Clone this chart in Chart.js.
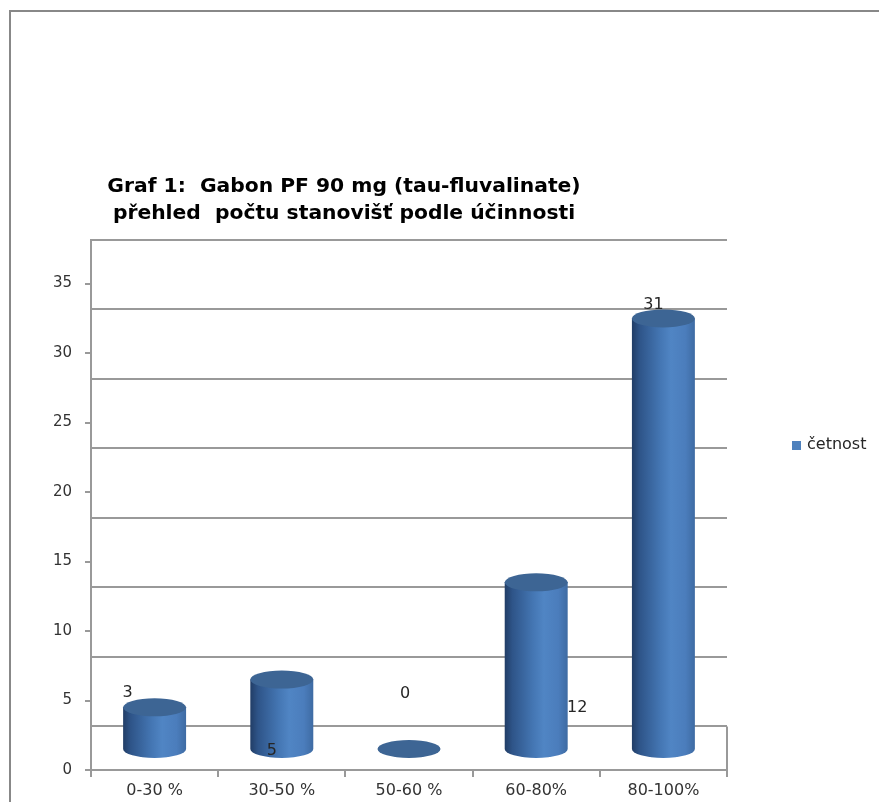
<!DOCTYPE html>
<html>
<head>
<meta charset="utf-8">
<script src="https://cdn.jsdelivr.net/npm/chart.js@4.4.1/dist/chart.umd.min.js"></script>
<style>
  html, body { margin: 0; padding: 0; background: #fff; }
  body { width: 879px; height: 802px; position: relative; overflow: hidden; }
  #frame { position: absolute; left: 9px; top: 10px; width: 900px; height: 820px;
           border-left: 2px solid #888; border-top: 2px solid #888; }
  #chart { position: absolute; left: -39px; top: 0; }
</style>
</head>
<body>
<div id="frame"></div>
<canvas id="chart" width="918" height="802"></canvas>
<script>
const categories = ['0-30 %', '30-50 %', '50-60 %', '60-80%', '80-100%'];
const counts = [3, 5, 0, 12, 31];
const seriesName = 'četnost';
const titleLines = ['Graf 1:  Gabon PF 90 mg (tau-fluvalinate)', 'přehled  počtu stanovišť podle účinnosti'];
const yTicks = [0, 5, 10, 15, 20, 25, 30, 35];

// Excel dropped the value labels in odd spots, shift relative to the cylinder top
const labelShift = [[-27, -14], [-10, 71], [-4, -55], [41, 126], [-10, -14]];

const GRID = '#999';
const SERIES_COLOR = '#4f81bd';
const TOP_COLOR = '#3d6594';
const FONT = 'DejaVu Sans';

// back wall lines sit lower than the axis ticks (3D view)
const wallLines = [...yTicks.slice(1), 40];

const cylinders = {
    id: 'cylinders',
    afterDatasetsDraw(chart) {
        const ctx = chart.ctx;
        const meta = chart.getDatasetMeta(0);
        meta.data.forEach((bar, i) => {
            const p = bar.getProps(['x', 'y', 'base', 'width'], true);
            const rx = p.width / 2;
            const ry = 9;
            ctx.save();
            if (p.base - p.y > 0.5) {
                const g = ctx.createLinearGradient(p.x - rx, 0, p.x + rx, 0);
                g.addColorStop(0, '#213d66');
                g.addColorStop(0.12, '#2e5488');
                g.addColorStop(0.45, '#4476b3');
                g.addColorStop(0.62, '#5085c4');
                g.addColorStop(0.85, '#4b7dbc');
                g.addColorStop(1, '#3e6ba3');
                ctx.beginPath();
                ctx.moveTo(p.x - rx, p.y);
                ctx.lineTo(p.x - rx, p.base);
                ctx.ellipse(p.x, p.base, rx, ry, 0, Math.PI, 0, true);
                ctx.lineTo(p.x + rx, p.y);
                ctx.closePath();
                ctx.fillStyle = g;
                ctx.fill();
            }
            ctx.beginPath();
            ctx.ellipse(p.x, p.y, rx, ry, 0, 0, Math.PI * 2);
            ctx.fillStyle = TOP_COLOR;
            ctx.fill();

            // value label
            ctx.fillStyle = '#262626';
            ctx.font = '16px "' + FONT + '"';
            ctx.textAlign = 'center';
            ctx.textBaseline = 'middle';
            ctx.fillText(String(counts[i]), p.x + labelShift[i][0], p.y + labelShift[i][1]);
            ctx.restore();
        });
    },
    afterDraw(chart) {
        const ctx = chart.ctx;
        const area = chart.chartArea;
        const wall = chart.scales.wall;
        ctx.save();
        // right edge of the floor
        ctx.strokeStyle = GRID;
        ctx.lineWidth = 2;
        ctx.beginPath();
        ctx.moveTo(area.right, wall.getPixelForValue(wallLines[0]));
        ctx.lineTo(area.right, area.bottom);
        ctx.stroke();

        // legend
        const lx = area.right + 65;
        const ly = area.top + 205;
        ctx.fillStyle = SERIES_COLOR;
        ctx.fillRect(lx, ly - 4, 9, 9);
        ctx.fillStyle = '#262626';
        ctx.font = '16px "' + FONT + '"';
        ctx.textAlign = 'left';
        ctx.textBaseline = 'middle';
        ctx.fillText(seriesName, lx + 15, ly);
        ctx.restore();
    }
};

new Chart(document.getElementById('chart').getContext('2d'), {
    type: 'bar',
    data: {
        labels: categories,
        datasets: [{
            label: seriesName,
            data: counts,
            yAxisID: 'yBar',
            backgroundColor: 'rgba(0,0,0,0)',
            borderWidth: 0,
            categoryPercentage: 0.5,
            barPercentage: 0.99,
        }],
    },
    options: {
        responsive: false,
        animation: false,
        layout: { padding: { left: 0, right: 152, top: 0, bottom: 0 } },
        plugins: {
            legend: { display: false },
            tooltip: { enabled: false },
            title: {
                display: true,
                text: titleLines,
                color: '#000',
                font: { family: FONT, weight: 'bold', size: 20.3, lineHeight: '27px' },
                padding: { top: 173, bottom: 13 },
            },
        },
        scales: {
            x: {
                grid: { offset: true, drawOnChartArea: false, tickLength: 7, color: GRID, lineWidth: 2 },
                border: { color: GRID, width: 2 },
                ticks: { color: '#333', font: { family: FONT, size: 16 }, padding: 4, maxRotation: 0 },
                afterFit(s) { s.height = 32; },
            },
            y: {
                min: 0,
                max: 38.13,
                afterBuildTicks(s) { s.ticks = yTicks.map(v => ({ value: v })); },
                grid: { drawOnChartArea: false, tickLength: 6, color: GRID, lineWidth: 2 },
                border: { color: GRID, width: 2 },
                ticks: { color: '#333', font: { family: FONT, size: 15 }, padding: 13 },
                afterFit(s) { s.width = 130; },
            },
            wall: {
                position: 'right',
                min: 1.87,
                max: 40,
                afterBuildTicks(s) { s.ticks = wallLines.map(v => ({ value: v })); },
                grid: { color: GRID, lineWidth: 2, drawTicks: false },
                border: { display: false },
                ticks: { display: false },
                afterFit(s) { s.width = 0; },
            },
            yBar: { display: false, min: -1.512, max: 36.65 },
        },
    },
    plugins: [cylinders],
});
</script>
</body>
</html>
